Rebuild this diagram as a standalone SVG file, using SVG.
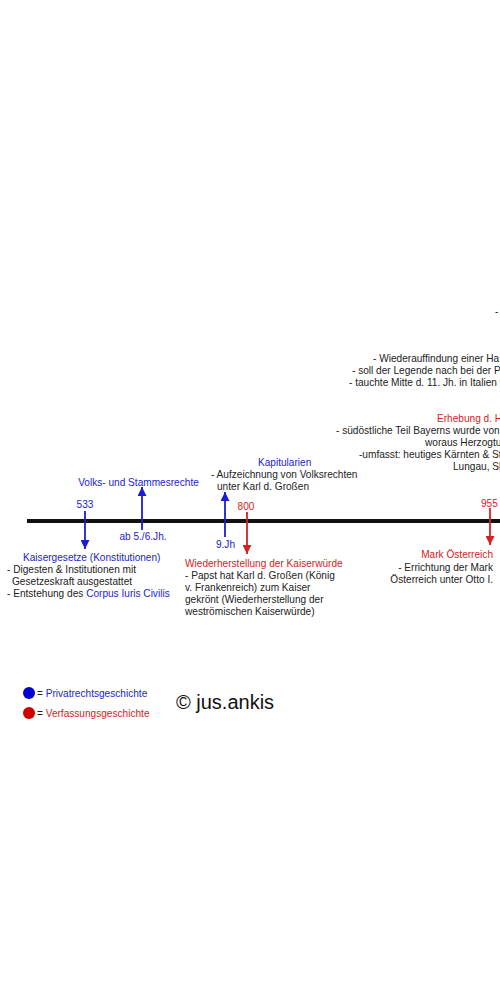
<svg xmlns="http://www.w3.org/2000/svg" width="500" height="997" viewBox="0 0 500 997">
<defs>
<style>
text{font-family:"Liberation Sans",Arial,sans-serif;font-size:10.1px;fill:#222}
.b{fill:#1c1cd2}
.r{fill:#d42222}
.big{font-size:20px;fill:#111}
.e{text-anchor:end}
.m{text-anchor:middle}
.lb{stroke:#1c1cd2;stroke-width:1.8;fill:none}
.lr{stroke:#d42222;stroke-width:1.8;fill:none}
</style>
<marker id="ab" markerUnits="userSpaceOnUse" markerWidth="9" markerHeight="9" viewBox="0 0 9 9" refX="9" refY="4.5" orient="auto"><path d="M0,0L9,4.5L0,9z" fill="#1c1cd2"/></marker>
<marker id="ar" markerUnits="userSpaceOnUse" markerWidth="9" markerHeight="9" viewBox="0 0 9 9" refX="9" refY="4.5" orient="auto"><path d="M0,0L9,4.5L0,9z" fill="#d42222"/></marker>
</defs>
<rect width="500" height="997" fill="#fff"/>
<g id="connectors">
<line x1="27" y1="521" x2="500" y2="521" stroke="#111" stroke-width="4"/>
<line class="lb" x1="85" y1="511" x2="85" y2="549" marker-end="url(#ab)"/>
<line class="lb" x1="142" y1="530" x2="142" y2="487" marker-end="url(#ab)"/>
<line class="lb" x1="225" y1="537" x2="225" y2="492" marker-end="url(#ab)"/>
<line class="lr" x1="247" y1="512" x2="247" y2="554" marker-end="url(#ar)"/>
<line class="lr" x1="490" y1="508" x2="490" y2="545" marker-end="url(#ar)"/>
</g>
<g id="n533">
<text class="b m" x="85" y="508">533</text>
<text class="b" x="23" y="561">Kaisergesetze (Konstitutionen)</text>
<text x="7" y="573">- Digesten &amp; Institutionen mit</text>
<text x="12" y="585">Gesetzeskraft ausgestattet</text>
<text x="7" y="597">- Entstehung des <tspan class="b">Corpus Iuris Civilis</tspan></text>
</g>
<g id="n56">
<text class="b m" x="138.5" y="486">Volks- und Stammesrechte</text>
<text class="b m" x="143" y="540">ab 5./6.Jh.</text>
</g>
<g id="n9">
<text class="b" x="258" y="466">Kapitularien</text>
<text x="211" y="478">- Aufzeichnung von Volksrechten</text>
<text x="217" y="490">unter Karl d. Großen</text>
<text class="b m" x="225.5" y="548">9.Jh</text>
</g>
<g id="n800">
<text class="r m" x="246" y="510">800</text>
<text class="r" x="185" y="567">Wiederherstellung der Kaiserwürde</text>
<text x="185" y="579">- Papst hat Karl d. Großen (König</text>
<text x="185" y="591">v. Frankenreich) zum Kaiser</text>
<text x="185" y="603">gekrönt (Wiederherstellung der</text>
<text x="185" y="615">weströmischen Kaiserwürde)</text>
</g>
<g id="n955">
<text class="r" x="481" y="507">955</text>
<text class="r e" x="493" y="558">Mark Österreich</text>
<text class="e" x="493" y="571">- Errichtung der Mark</text>
<text class="e" x="493" y="583">Österreich unter Otto I.</text>
</g>
<g id="nHerzogtum">
<text class="r" x="437" y="422">Erhebung d. H</text>
<text x="336" y="434">- südöstliche Teil Bayerns wurde von</text>
<text x="425" y="446">woraus Herzogtu</text>
<text x="359" y="458">-umfasst: heutiges Kärnten &amp; St</text>
<text x="453" y="470">Lungau, Sl</text>
</g>
<g id="nHand">
<text x="495" y="315">-</text>
<text x="373" y="362">- Wiederauffindung einer Ha</text>
<text x="352" y="374">- soll der Legende nach bei der P</text>
<text x="349" y="386">- tauchte Mitte d. 11. Jh. in Italien v</text>
</g>
<g id="legend">
<circle cx="29" cy="693" r="6" fill="#0000d0"/>
<text x="37" y="697">= <tspan class="b">Privatrechtsgeschichte</tspan></text>
<circle cx="29" cy="713" r="6" fill="#d00000"/>
<text x="37" y="717">= <tspan class="r">Verfassungsgeschichte</tspan></text>
<text class="big" x="176" y="709">© jus.ankis</text>
</g>
</svg>
